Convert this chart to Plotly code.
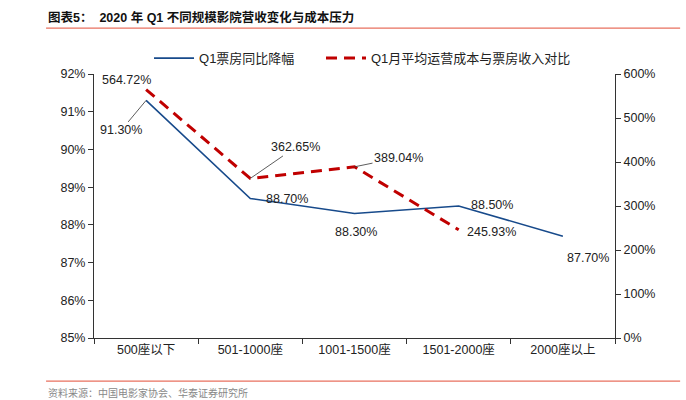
import plotly.graph_objects as go

categories = ["500座以下", "501-1000座", "1001-1500座", "1501-2000座", "2000座以上"]
box_office_drop = [91.30, 88.70, 88.30, 88.50, 87.70]          # % (left axis)
cost_ratio = [564.72, 362.65, 389.04, 245.93, None]             # % (right axis)
name_blue = "Q1票房同比降幅"
name_red = "Q1月平均运营成本与票房收入对比"
title_text = "图表5：  2020 年 Q1 不同规模影院营收变化与成本压力"
source_text = "资料来源：中国电影家协会、华泰证券研究所"

BLUE = "#174A8B"
RED = "#C00000"
FONT = "Liberation Sans, Arial, Noto Sans CJK SC, sans-serif"

fig = go.Figure()
fig.add_trace(go.Scatter(x=categories, y=box_office_drop, name=name_blue, mode="lines",
                         line=dict(color=BLUE, width=1.6), yaxis="y", legend="legend"))
fig.add_trace(go.Scatter(x=categories, y=cost_ratio, name=name_red, mode="lines",
                         line=dict(color=RED, width=3, dash="11px,7px"), yaxis="y2",
                         connectgaps=False, legend="legend2"))

ann = []
def lab(x, y, text, yref, xshift=0, yshift=0, ax=None, ay=None):
    d = dict(x=x, y=y, xref="x", yref=yref, text=text, font=dict(family=FONT, size=12.5, color="#222"),
             xshift=xshift, yshift=yshift, showarrow=False)
    if ax is not None:
        d.update(showarrow=True, arrowhead=0, arrowwidth=0.8, arrowcolor="#333", ax=ax, ay=ay,
                 xshift=0, yshift=0)
    ann.append(d)

# red labels
lab(categories[0], cost_ratio[0], f"{cost_ratio[0]:.2f}%", "y2", xshift=-20, yshift=10)
lab(categories[1], cost_ratio[1], f"{cost_ratio[1]:.2f}%", "y2", ax=45, ay=-31)
lab(categories[2], cost_ratio[2], f"{cost_ratio[2]:.2f}%", "y2", ax=44, ay=-9)
lab(categories[3], cost_ratio[3], f"{cost_ratio[3]:.2f}%", "y2", xshift=33, yshift=-2)
# blue labels
lab(categories[0], box_office_drop[0], f"{box_office_drop[0]:.2f}%", "y", ax=-25, ay=30)
lab(categories[1], box_office_drop[1], f"{box_office_drop[1]:.2f}%", "y", xshift=37, yshift=-1)
lab(categories[2], box_office_drop[2], f"{box_office_drop[2]:.2f}%", "y", xshift=1, yshift=-18)
lab(categories[3], box_office_drop[3], f"{box_office_drop[3]:.2f}%", "y", xshift=33, yshift=1)
lab(categories[4], box_office_drop[4], f"{box_office_drop[4]:.2f}%", "y", xshift=25, yshift=-22)

# title and source
ann.append(dict(x=-0.092, y=1.213, xref="paper", yref="paper", xanchor="left", yanchor="middle",
                text="<b>" + title_text + "</b>", showarrow=False,
                font=dict(family="Liberation Sans, Noto Sans CJK SC", size=12.5, color="#111")))
ann.append(dict(x=-0.092, y=-0.205, xref="paper", yref="paper", xanchor="left", yanchor="middle",
                text=source_text, showarrow=False,
                font=dict(family="Noto Sans CJK SC", size=10, color="#888")))

shapes = [
    dict(type="line", xref="paper", yref="paper", x0=-0.092, x1=1.125, y0=1.174, y1=1.174,
         line=dict(color="#E8705F", width=1.2)),
    dict(type="line", xref="paper", yref="paper", x0=-0.092, x1=1.125, y0=-0.163, y1=-0.163,
         line=dict(color="#E8705F", width=1.2)),
]

axis_common = dict(showgrid=False, zeroline=False, showline=True, linecolor="#333", linewidth=1,
                   ticks="outside", ticklen=5, tickcolor="#333",
                   tickfont=dict(family=FONT, size=12.5, color="#222"))

legend_common = dict(orientation="h", xanchor="left", y=1.06, yanchor="middle",
                     font=dict(family=FONT, size=13, color="#222"), bgcolor="rgba(0,0,0,0)",
                     itemwidth=40, tracegroupgap=0)

fig.update_layout(
    width=686, height=400,
    margin=dict(l=94, r=71, t=74, b=62),
    paper_bgcolor="white", plot_bgcolor="white",
    showlegend=True,
    legend=dict(**legend_common, x=0.1056),
    legend2=dict(**legend_common, x=0.4357),
    xaxis=dict(**axis_common, type="category", tickson="boundaries", range=[-0.5, 4.5]),
    yaxis=dict(**axis_common, range=[85, 92], dtick=1, ticksuffix="%", tickformat="d"),
    yaxis2=dict(**axis_common, range=[0, 600], dtick=100, ticksuffix="%", overlaying="y",
                side="right", tickformat="d"),
    annotations=ann, shapes=shapes,
)

fig.write_html("out.html", config={"displayModeBar": False},
               post_script="document.body.style.margin='0';document.body.style.overflow='hidden';")
